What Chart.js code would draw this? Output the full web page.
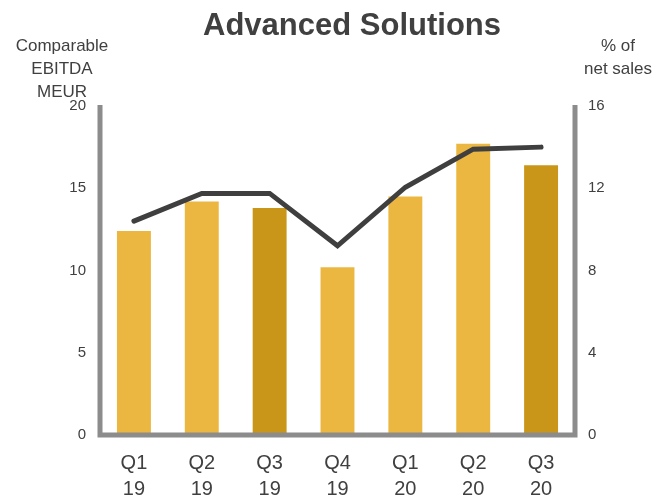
<!DOCTYPE html>
<html>
<head>
<meta charset="utf-8">
<script src="https://cdn.jsdelivr.net/npm/chart.js@4.4.1/dist/chart.umd.min.js"></script>
<style>
    body { margin: 0; background: #fff; }
    .chart-box { width: 661px; height: 496px; position: relative; }
</style>
</head>
<body>
<div class="chart-box">
    <canvas id="ebitdaChart"></canvas>
</div>
<script>
//! Data
const quarters = [['Q1', '19'], ['Q2', '19'], ['Q3', '19'], ['Q4', '19'], ['Q1', '20'], ['Q2', '20'], ['Q3', '20']];
const ebitda = [12.4, 14.2, 13.8, 10.2, 14.5, 17.7, 16.4];
const pctOfSales = [10.4, 11.75, 11.75, 9.2, 12.05, 13.9, 14.0];
const leftTicks = [0, 5, 10, 15, 20];
const rightTicks = [0, 4, 8, 12, 16];

const FONT = '"Liberation Sans", Arial, sans-serif';
const TEXT = '#404040';
const LIGHT = '#EBB740';
const DARK = '#C99619';

// Q3 bars are the darker ones
const barColors = quarters.map(q => q[0] === 'Q3' ? DARK : LIGHT);

//! Titles + axis frame
const decorPlugin = {
    id: 'decor',
    afterDatasetsDraw(chart) {
        const { ctx, chartArea } = chart;
        ctx.save();
        ctx.strokeStyle = '#8C8C8C';
        ctx.lineWidth = 5;
        ctx.lineJoin = 'miter';
        ctx.beginPath();
        ctx.moveTo(chartArea.left, chartArea.top - 1);
        ctx.lineTo(chartArea.left, chartArea.bottom);
        ctx.lineTo(chartArea.right, chartArea.bottom);
        ctx.lineTo(chartArea.right, chartArea.top - 1);
        ctx.stroke();
        ctx.restore();
    },
    afterDraw(chart) {
        const { ctx } = chart;
        ctx.save();
        ctx.fillStyle = TEXT;
        ctx.textAlign = 'center';
        ctx.textBaseline = 'middle';

        ctx.font = 'bold 31px ' + FONT;
        ctx.fillText('Advanced Solutions', 352, 26);

        ctx.font = '17px ' + FONT;
        ['Comparable', 'EBITDA', 'MEUR'].forEach((t, i) => {
            ctx.fillText(t, 62, 46 + i * 23);
        });
        ['% of', 'net sales'].forEach((t, i) => {
            ctx.fillText(t, 618, 46 + i * 23);
        });
        ctx.restore();
    }
};

const ctx = document.getElementById('ebitdaChart');

const ebitdaChart = new Chart(ctx, {
    type: 'bar',
    data: {
        labels: quarters,
        datasets: [
            {
                type: 'line',
                label: '% of net sales',
                data: pctOfSales,
                yAxisID: 'y1',
                borderColor: '#3F3F3F',
                borderWidth: 5,
                borderCapStyle: 'round',
                pointRadius: 0,
                tension: 0,
                order: 0,
            },
            {
                type: 'bar',
                label: 'Comparable EBITDA',
                data: ebitda,
                yAxisID: 'y',
                backgroundColor: barColors,
                barPercentage: 0.5,
                categoryPercentage: 1,
                order: 1,
            },
        ]
    },
    options: {
        responsive: true,
        maintainAspectRatio: false,
        animation: false,
        layout: {
            padding: { top: 106, bottom: 0, left: 0, right: 0 }
        },
        plugins: {
            legend: { display: false },
            title: { display: false },
            tooltip: { enabled: false }
        },
        scales: {
            x: {
                grid: { display: false, drawTicks: false },
                border: { display: false },
                ticks: {
                    color: TEXT,
                    font: { family: FONT, size: 20, lineHeight: 1.3 },
                    padding: 15,
                    maxRotation: 0,
                },
                afterFit: (scale) => { scale.height = 61; },
            },
            y: {
                position: 'left',
                min: 0,
                max: 20,
                afterBuildTicks: (scale) => { scale.ticks = leftTicks.map(v => ({ value: v })); },
                grid: { display: false, drawTicks: false },
                border: { display: false },
                ticks: {
                    color: TEXT,
                    font: { family: FONT, size: 15 },
                    padding: 14,
                },
                afterFit: (scale) => { scale.width = 100; },
            },
            y1: {
                position: 'right',
                min: 0,
                max: 16,
                afterBuildTicks: (scale) => { scale.ticks = rightTicks.map(v => ({ value: v })); },
                grid: { display: false, drawTicks: false },
                border: { display: false },
                ticks: {
                    color: TEXT,
                    font: { family: FONT, size: 15 },
                    padding: 13,
                },
                afterFit: (scale) => { scale.width = 86; },
            },
        }
    },
    plugins: [decorPlugin]
});
</script>
</body>
</html>
